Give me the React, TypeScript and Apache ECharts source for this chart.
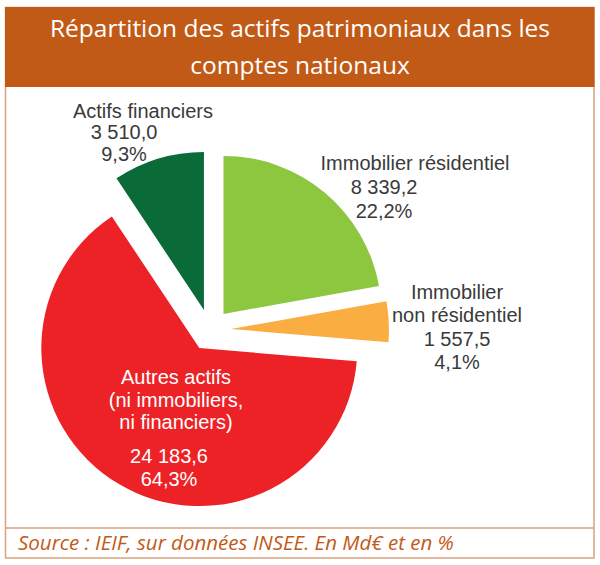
import React, { useEffect, useRef } from "react";
import * as echarts from "echarts";

// ---- Data ----
const categories = [
  "Immobilier résidentiel",
  "Immobilier non résidentiel",
  "Autres actifs",
  "Actifs financiers",
];
const labelLines = [
  ["Immobilier résidentiel"],
  ["Immobilier", "non résidentiel"],
  ["Autres actifs", "(ni immobiliers,", "ni financiers)"],
  ["Actifs financiers"],
];
const values = [8339.2, 1557.5, 24183.6, 3510.0];
const sliceColors = ["#8DC63F", "#FAAE42", "#EC2227", "#0A6A38"];
const titleText = "Répartition des actifs patrimoniaux dans les\ncomptes nationaux";
const sourceText = "Source : IEIF, sur données INSEE. En Md€ et en %";

// label block centres (layout, not data)
const labelPos: [number, number][] = [
  [415, 187],
  [457, 327],
  [176, 428],
  [143, 132],
];

const fmtNum = (v: number) => {
  const [i, d] = v.toFixed(1).split(".");
  return i.replace(/\B(?=(\d{3})+(?!\d))/g, " ") + "," + d;
};

export default function App() {
  const ref = useRef<HTMLDivElement>(null);
  useEffect(() => {
    if (!ref.current) return;
    const chart = echarts.init(ref.current, undefined, { renderer: "svg" });
    const total = values.reduce((a, b) => a + b, 0);
    const labelFont = "'Liberation Sans', Arial, sans-serif";
    const dark = "#3a3a3a";
    const base = { fontFamily: labelFont, fontSize: 20, align: "center" };
    const rich: any = {
      n0: { ...base, fill: dark, lineHeight: 24 },
      v0: { ...base, fill: dark, lineHeight: 24, padding: [0, 62, 0, 0] },
      n1: { ...base, fill: dark, lineHeight: 23.5 },
      v1: { ...base, fill: dark, lineHeight: 23.5 },
      n2: { ...base, fill: "#ffffff", lineHeight: 22.5 },
      s2: { fontFamily: labelFont, fontSize: 4, lineHeight: 11, fill: "#ffffff" },
      v2: { ...base, fill: "#ffffff", lineHeight: 23, padding: [0, 14, 0, 0] },
      n3: { ...base, fill: dark, lineHeight: 21.5 },
      v3: { ...base, fill: dark, lineHeight: 21.5, padding: [0, 38, 0, 0] },
    };
    const labelText = (i: number) => {
      const lines = labelLines[i].map((l) => `{n${i}|${l}}`);
      const pct = ((values[i] / total) * 100).toFixed(1).replace(".", ",") + "%";
      if (i === 2) lines.push(`{s2| }`);
      lines.push(`{v${i}|${fmtNum(values[i])}}`);
      lines.push(`{v${i}|${pct}}`);
      return lines.join("\n");
    };
    const labelGraphics = categories.map((_, i) => ({
      type: "text",
      z: 10,
      x: labelPos[i][0],
      y: labelPos[i][1],
      style: {
        text: labelText(i),
        rich,
        align: "center",
        verticalAlign: "middle",
        font: `20px ${labelFont}`,
        fill: i === 2 ? "#ffffff" : dark,
      },
    }));
    chart.setOption({
      animation: false,
      title: {
        text: titleText,
        left: "center",
        top: 9,
        padding: 0,
        textStyle: {
          color: "#ffffff",
          fontFamily: "'Open Sans', sans-serif",
          fontSize: 24.5,
          fontWeight: "normal",
          lineHeight: 37,
        },
      },
      graphic: [
        {
          type: "rect",
          z: 0,
          shape: { x: 5.5, y: 7.5, width: 588.5, height: 550.5 },
          style: { fill: "#ffffff", stroke: "#D9A27C", lineWidth: 1.5 },
        },
        {
          type: "rect",
          z: 1,
          shape: { x: 5, y: 7, width: 589.5, height: 80 },
          style: { fill: "#C25A17" },
        },
        {
          type: "line",
          z: 1,
          shape: { x1: 5.5, y1: 528, x2: 594, y2: 528 },
          style: { stroke: "#D9A27C", lineWidth: 1.5 },
        },
        {
          type: "text",
          z: 1,
          x: 18,
          y: 542,
          style: {
            text: sourceText,
            fill: "#C25A17",
            font: "italic 20.5px 'Open Sans', sans-serif",
            verticalAlign: "middle",
            align: "left",
          },
        },
        ...labelGraphics,
      ],
      series: [
        {
          type: "pie",
          center: [210, 330],
          radius: 158,
          startAngle: 90,
          clockwise: true,
          selectedMode: "multiple",
          selectedOffset: 21,
          emphasis: { disabled: true },
          select: { itemStyle: { borderWidth: 0 } },
          label: { show: false },
          labelLine: { show: false },
          itemStyle: { borderWidth: 0 },
          data: categories.map((name, i) => ({
            name,
            value: values[i],
            selected: true,
            itemStyle: { color: sliceColors[i] },
          })),
        },
      ],
    });
    return () => chart.dispose();
  }, []);
  return (
    <div
      ref={ref}
      style={{ position: "absolute", left: 0, top: 0, width: 600, height: 565 }}
    />
  );
}
